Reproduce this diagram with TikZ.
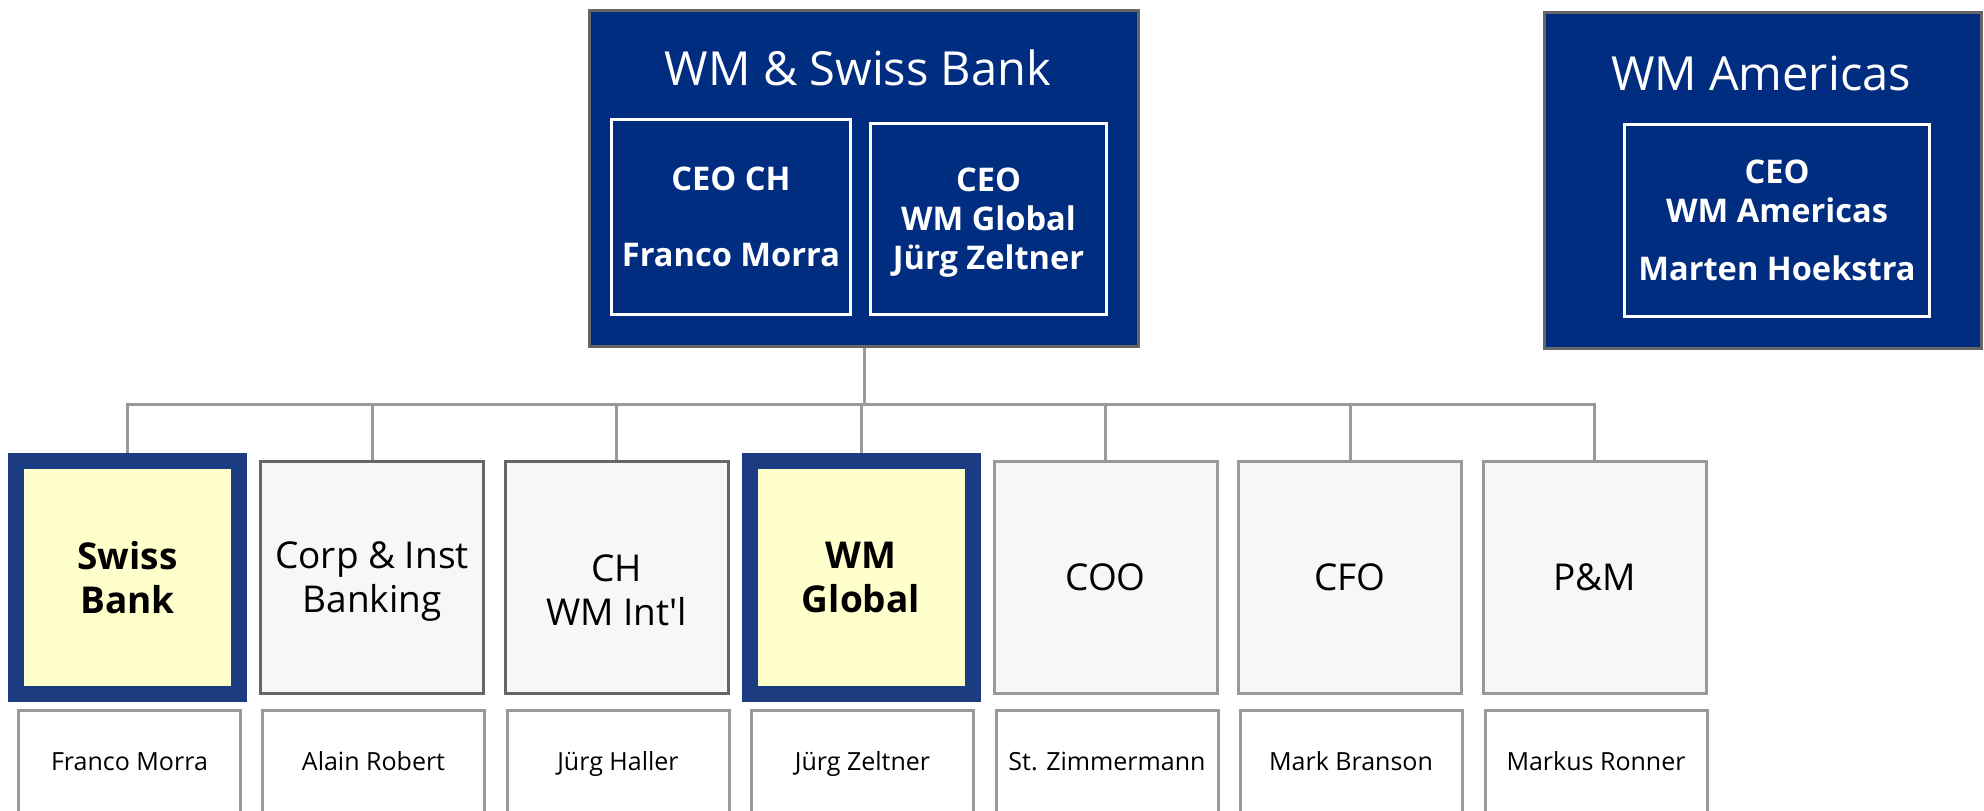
\documentclass[tikz,border=0pt]{standalone}
\usepackage{fontspec}
\setmainfont{Open Sans}
\definecolor{navy}{RGB}{0,45,128}
\definecolor{hiblue}{RGB}{28,60,130}
\definecolor{paleyellow}{RGB}{255,255,204}
\definecolor{palegray}{RGB}{247,247,247}
\definecolor{edgedark}{RGB}{102,102,102}
\definecolor{edgelight}{RGB}{153,153,153}

\begin{document}
\begin{tikzpicture}[x=0.5pt,y=-0.5pt,
  region/.style={draw=edgedark,line width=1.5pt,fill=navy,inner sep=0pt},
  headline/.style={text=white,inner sep=0pt,text height=16.8pt,text depth=0pt,font=\fontsize{23.5}{28}\selectfont},
  ceo/.style={draw=white,line width=1.5pt,text=white,inner sep=0pt,align=center,text depth=0pt,font=\fontsize{16.3}{19.5}\selectfont\bfseries},
  unit/.style={draw=edgelight,line width=1.5pt,fill=palegray,minimum width=111.5pt,minimum height=116pt,inner sep=0pt,align=center,text depth=0pt,font=\fontsize{18.5}{22}\selectfont},
  focus/.style={unit,draw=hiblue,line width=8pt,fill=paleyellow,minimum height=116.5pt,font=\fontsize{18.5}{22}\selectfont\bfseries},
  person/.style={draw=edgelight,line width=1.5pt,minimum width=111pt,minimum height=51.5pt,inner sep=0pt,text height=8.9pt,text depth=0pt,font=\fontsize{12.5}{15}\selectfont},
  link/.style={draw=edgelight,line width=1.5pt}]
\clip (0,0) rectangle (1984,810);
\fill[white] (0,0) rectangle (1984,810);

\node[region,minimum width=274.5pt,minimum height=168pt] (wmsb) at (864,178.5) {};
\node[headline] (wmsbtitle) at (858,69) {WM \& Swiss Bank};
\node[ceo,minimum width=119.5pt,minimum height=97.5pt] (ceoch) at (731,217) {CEO CH\\[18.5pt]Franco Morra};
\node[ceo,minimum width=118pt,minimum height=95.5pt] (ceowmg) at (988.5,219) {CEO\\WM Global\\Jürg Zeltner};

\node[region,minimum width=218.5pt,minimum height=168pt] (wmam) at (1763,180.5) {};
\node[headline] (wmamtitle) at (1761,73.5) {WM Americas};
\node[ceo,minimum width=152.5pt,minimum height=96pt] (ceoam) at (1777,220.5) {CEO\\WM Americas\\[9.5pt]Marten Hoekstra};

\node[focus] (sb) at (127.5,577.5) {Swiss\\Bank};
\node[unit,draw=edgedark] (ci) at (372,577.5) {Corp \& Inst\\Banking};
\node[unit,draw=edgedark,text height=47.5pt] (ch) at (616.5,577.5) {CH\\WM Int\textquotesingle l};
\node[focus] (wmg) at (861,577.5) {WM\\Global};
\node[unit] (coo) at (1105.5,577.5) {COO};
\node[unit] (cfo) at (1350,577.5) {CFO};
\node[unit] (pm) at (1594.5,577.5) {P\&M};

\node[person] (sbname) at (129.5,762) {Franco Morra};
\node[person] (ciname) at (373.5,762) {Alain Robert};
\node[person] (chname) at (618,762) {Jürg Haller};
\node[person] (wmgname) at (862.5,762) {Jürg Zeltner};
\node[person] (cooname) at (1107,762) {St. Zimmermann};
\node[person] (cfoname) at (1351,762) {Mark Branson};
\node[person] (pmname) at (1596,762) {Markus Ronner};

\coordinate (bus) at (864,404);
\draw[link] (wmsb.south) -- (bus);
\draw[link] (sb.north) |- (bus) -| (pm.north);
\draw[link] (ci.north) -- (ci.north |- bus);
\draw[link] (ch.north) -- (ch.north |- bus);
\draw[link] (wmg.north) -- (wmg.north |- bus);
\draw[link] (coo.north) -- (coo.north |- bus);
\draw[link] (cfo.north) -- (cfo.north |- bus);
\end{tikzpicture}
\end{document}
